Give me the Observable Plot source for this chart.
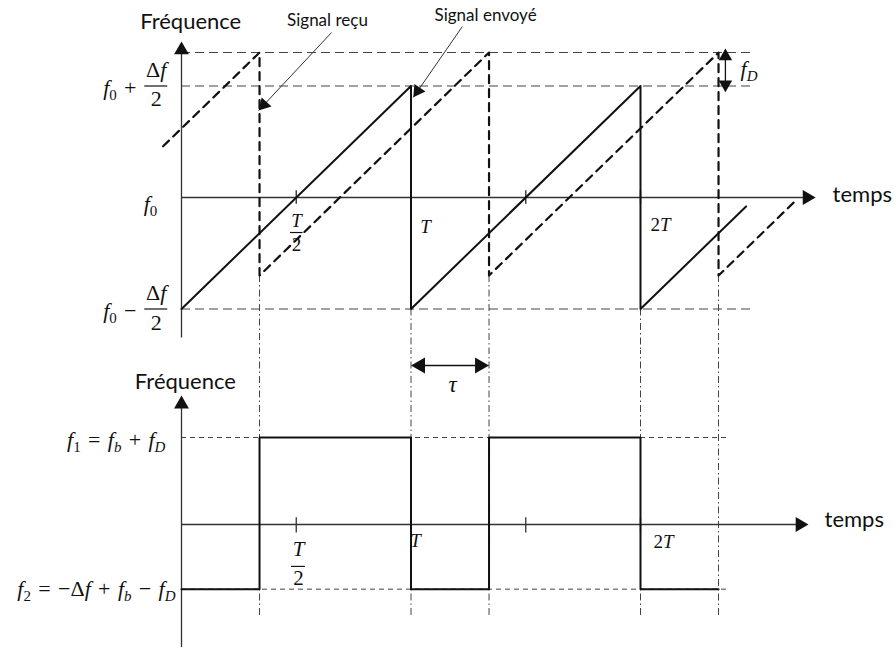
<!DOCTYPE html>
<html>
<head>
<meta charset="utf-8">
<script src="https://cdn.jsdelivr.net/npm/d3@7"></script>
<script src="https://cdn.jsdelivr.net/npm/@observablehq/plot@0.6"></script>
<style>
  body { margin: 0; background: #fff; }
  #chart svg { display: block; }
</style>
</head>
<body>
<div id="chart"></div>
<script>
// Time is in units of the modulation period T; frequency in units of Δf, centred on f0.
const tau = 0.34;   // round-trip delay τ
const fD = 0.15;    // Doppler shift f_D

// Transmitted chirp (solid sawtooth)
const sentT = [0, 1, 1, 2, 2, 2.46];
const sentF = [-0.5, 0.5, -0.5, 0.5, -0.5, -0.04];

// Received chirp (dashed sawtooth, delayed by τ and shifted by f_D)
const recuT = [-0.08, 0.34, 0.34, 1.34, 1.34, 2.34, 2.34, 2.68];
const recuF = [0.23, 0.65, -0.35, 0.65, -0.35, 0.65, -0.35, -0.01];

// Reference levels of the upper diagram: f0 + Δf/2 + fD, f0 + Δf/2, f0 − Δf/2
const topLevels = [0.65, 0.5, -0.5];

// Instants where a chirp restarts, with the frequency it restarts from
const dropT = [0.34, 1, 1.34, 2, 2.34];
const dropF = [-0.35, -0.5, -0.35, -0.5, -0.35];

// Time ticks (T/2, T, 3T/2, 2T)
const tickT = [0.5, 1, 1.5, 2];

// Beat frequency: alternates between f1 and f2
const f1 = 0.39, f2 = -0.29;
const beatT = [0, 0.34, 0.34, 1, 1, 1.34, 1.34, 2, 2, 2.34];
const beatF = [f2, f2, f1, f1, f2, f2, f1, f1, f2, f2];
const beatLevels = [f1, f2];

const yLabel = "Fréquence";
const xLabel = "temps";

// ---- layout ----
const W = 896, H1 = 350, H2 = 300;
const kx = 229.5, ky = 223;           // pixels per T and per Δf
const originX = 181;
const xDomain = [-originX / kx, (W - originX) / kx];
const upperDomain = [-(H1 - 197) / ky, 197 / ky];
const lowerDomain = [-(H2 - 174) / ky, 174 / ky];

const ink = "#111", axisInk = "#333", guide = "#444";
const sans = "Lato", serif = "Liberation Serif";
const headR = 5.5;

// filled triangular arrow head whose tip sits at (t, f), pointing at angle a (deg, clockwise from up)
function head(t, f, a, r = headR) {
  const L = 2 * r * Math.sqrt(Math.PI / (3 * Math.sqrt(3)));
  const s = Math.sin(a * Math.PI / 180), c = Math.cos(a * Math.PI / 180);
  return Plot.dot([{t: t - L * s / kx, f: f - L * c / ky}], {
    x: "t", y: "f", symbol: "triangle", r, rotate: a, fill: ink, stroke: "none"
  });
}
function angle(t1, f1_, t2, f2_) {
  const dx = (t2 - t1) * kx, dy = -(f2_ - f1_) * ky;
  return Math.atan2(dx, -dy) * 180 / Math.PI;
}
function label(text, t, f, opts = {}) {
  return Plot.text([text], {x: t, y: f, text: d => d, fill: ink, fontFamily: sans, fontSize: 21, ...opts});
}
function math(text, t, f, opts = {}) {
  return label(text, t, f, {fontFamily: serif, fontSize: 21, ...opts});
}
function bar(t1, t2, f) {
  return Plot.ruleY([f], {x1: t1, x2: t2, stroke: ink, strokeWidth: 1.2});
}

// turn "f_0" style strings into italic letters with subscripts
function mathify(svg) {
  const ns = "http://www.w3.org/2000/svg";
  d3.select(svg).selectAll(`g[font-family="${serif}"] text`).each(function () {
    const s = this.textContent;
    this.textContent = "";
    let shifted = false;
    for (let i = 0; i < s.length; i++) {
      let ch = s[i], sub = false;
      if (ch === "_") { sub = true; ch = s[++i]; }
      const ts = document.createElementNS(ns, "tspan");
      ts.textContent = ch === " " ? "\u2004" : ch;
      if (/[A-Za-z\u03c4]/.test(ch)) ts.setAttribute("font-style", "italic");
      if (sub) {
        ts.setAttribute("font-size", "0.68em");
        if (!shifted) { ts.setAttribute("dy", 5); shifted = true; }
      } else if (shifted) { ts.setAttribute("dy", -5); shifted = false; }
      this.appendChild(ts);
    }
  });
  return svg;
}

const sent = sentT.map((t, i) => ({t, f: sentF[i]}));
const recu = recuT.map((t, i) => ({t, f: recuF[i]}));
const drops = dropT.map((t, i) => ({t, f: dropF[i]}));
const beat = beatT.map((t, i) => ({t, f: beatF[i]}));

// ---- upper diagram: transmitted and received chirps ----
const recuArrow = {t1: 0.654, f1: 0.74, t2: 0.336, f2: 0.39};
const envoyeArrow = {t1: 1.224, f1: 0.767, t2: 1.01, f2: 0.449};
const aRecu = angle(recuArrow.t1, recuArrow.f1, recuArrow.t2, recuArrow.f2);
const aEnv = angle(envoyeArrow.t1, envoyeArrow.f1, envoyeArrow.t2, envoyeArrow.f2);

const upper = Plot.plot({
  width: W, height: H1, margin: 0,
  x: {domain: xDomain, axis: null},
  y: {domain: upperDomain, axis: null},
  marks: [
    Plot.ruleY(topLevels, {x1: 0, x2: 2.48, stroke: guide, strokeWidth: 1.1, strokeDasharray: "9,5"}),
    Plot.ruleX(drops, {x: "t", y1: "f", y2: upperDomain[0], stroke: guide, strokeWidth: 1, strokeDasharray: "7,3,1.5,3"}),
    Plot.ruleX([0], {y1: -0.63, y2: 0.66, stroke: axisInk, strokeWidth: 1.3}),
    Plot.ruleY([0], {x1: 0, x2: 2.71, stroke: axisInk, strokeWidth: 1.3}),
    Plot.ruleX(tickT, {y1: -0.03, y2: 0.03, stroke: axisInk, strokeWidth: 1.4}),
    head(0, 0.70, 0),
    head(2.763, 0, 90),
    Plot.line(recu, {x: "t", y: "f", stroke: ink, strokeWidth: 2.2, strokeDasharray: "8,6"}),
    Plot.line(sent, {x: "t", y: "f", stroke: ink, strokeWidth: 2}),
    // Doppler shift marker
    Plot.ruleX([2.37], {y1: 0.49, y2: 0.66, stroke: ink, strokeWidth: 1.3}),
    head(2.37, 0.668, 0, 5),
    head(2.37, 0.472, 180, 5),
    math("f_D", 2.436, 0.578, {textAnchor: "start", fontSize: 22}),
    // pointers to the two signals
    Plot.link([recuArrow], {x1: "t1", y1: "f1", x2: "t2", y2: "f2", stroke: axisInk, strokeWidth: 1}),
    head(recuArrow.t2, recuArrow.f2, aRecu, 5),
    Plot.link([envoyeArrow], {x1: "t1", y1: "f1", x2: "t2", y2: "f2", stroke: axisInk, strokeWidth: 1}),
    head(envoyeArrow.t2, envoyeArrow.f2, aEnv, 5),
    label("Signal reçu", 0.636, 0.794, {fontSize: 17}),
    label("Signal envoyé", 1.325, 0.816, {fontSize: 17}),
    label(yLabel, 0.04, 0.785, {fontSize: 22}),
    label(xLabel, 2.837, 0.013, {textAnchor: "start", fontSize: 22}),
    // frequency labels
    math("f_0 +", -0.196, 0.489, {textAnchor: "end", fontSize: 22}),
    math("Δf", -0.11, 0.572, {fontSize: 22}),
    bar(-0.16, -0.06, 0.5),
    math("2", -0.11, 0.444, {fontSize: 22}),
    math("f_0", -0.135, -0.031, {fontSize: 22}),
    math("f_0 −", -0.196, -0.511, {textAnchor: "end", fontSize: 22}),
    math("Δf", -0.11, -0.43, {fontSize: 22}),
    bar(-0.16, -0.06, -0.5),
    math("2", -0.11, -0.561, {fontSize: 22}),
    // time labels
    math("T", 0.501, -0.103, {fontSize: 19}),
    bar(0.475, 0.53, -0.157),
    math("2", 0.501, -0.211, {fontSize: 19}),
    math("T", 1.063, -0.13, {fontSize: 19}),
    math("2T", 2.087, -0.121, {fontSize: 19})
  ]
});

// ---- lower diagram: beat frequency ----
const lower = Plot.plot({
  width: W, height: H2, margin: 0,
  x: {domain: xDomain, axis: null},
  y: {domain: lowerDomain, axis: null},
  marks: [
    Plot.ruleY(beatLevels, {x1: 0, x2: 2.38, stroke: guide, strokeWidth: 1, strokeDasharray: "5,4"}),
    Plot.ruleX(dropT, {y1: -0.408, y2: lowerDomain[1], stroke: guide, strokeWidth: 1, strokeDasharray: "7,3,1.5,3"}),
    Plot.ruleX([0], {y1: -0.552, y2: 0.54, stroke: axisInk, strokeWidth: 1.3}),
    Plot.ruleY([0], {x1: 0, x2: 2.70, stroke: axisInk, strokeWidth: 1.3}),
    Plot.ruleX(tickT, {y1: -0.038, y2: 0.03, stroke: axisInk, strokeWidth: 1.3}),
    head(0, 0.578, 0),
    head(2.732, 0, 90),
    Plot.line(beat, {x: "t", y: "f", stroke: ink, strokeWidth: 2}),
    // delay τ between the two chirps
    Plot.ruleY([0.713], {x1: 1.03, x2: 1 + tau - 0.03, stroke: ink, strokeWidth: 1.3}),
    head(1, 0.713, -90, 6),
    head(1 + tau, 0.713, 90, 6),
    math("τ", 1.181, 0.628, {fontSize: 23}),
    label(yLabel, 0.017, 0.637, {fontSize: 22}),
    label(xLabel, 2.802, 0.022, {textAnchor: "start", fontSize: 22}),
    math("f_1 = f_b + f_D", -0.07, 0.377, {textAnchor: "end", fontSize: 22}),
    math("f_2 = −Δf + f_b − f_D", -0.026, -0.291, {textAnchor: "end", fontSize: 22}),
    math("T", 0.51, -0.112),
    bar(0.479, 0.54, -0.188),
    math("2", 0.51, -0.242),
    math("T", 1.02, -0.072, {fontSize: 19}),
    math("2T", 2.1, -0.076, {fontSize: 19})
  ]
});

const root = document.getElementById("chart");
root.append(mathify(upper), mathify(lower));
</script>
</body>
</html>
